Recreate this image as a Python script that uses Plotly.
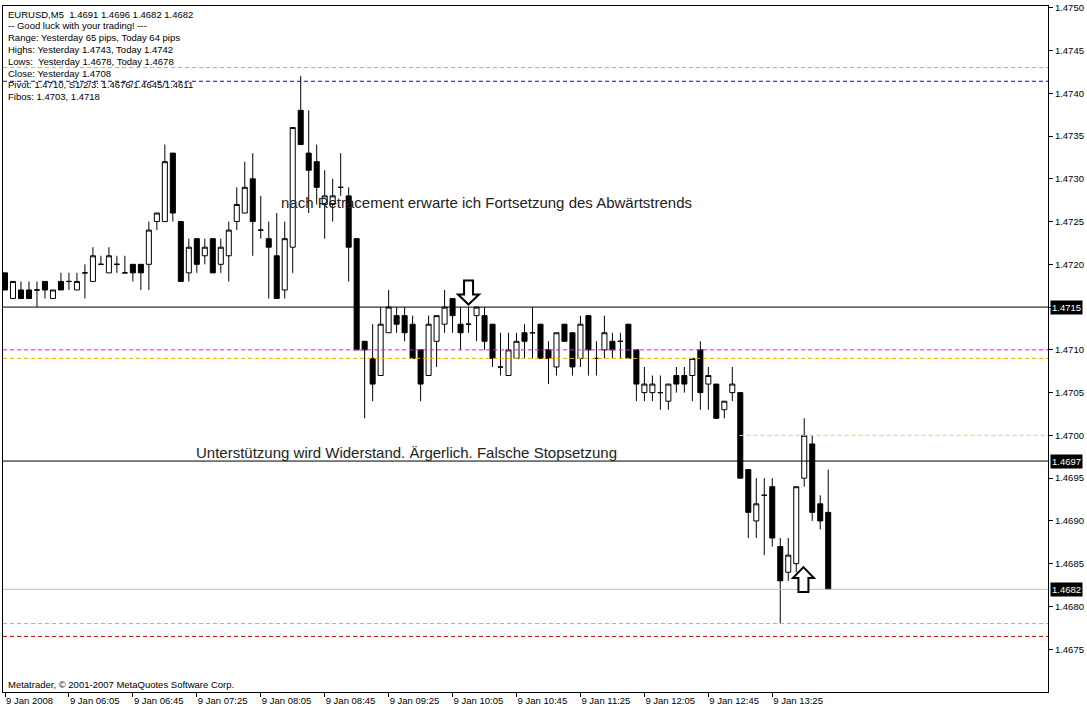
import plotly.graph_objects as go

# ---------------- data (EURUSD M5, 9 Jan 2008, bars from 05:25 to 14:00) ----------------
opens = [1.4719, 1.4716, 1.4717, 1.4717, 1.4717, 1.4718, 1.4716, 1.4718, 1.4718, 1.4717,
         1.4719, 1.4718, 1.4720, 1.4719, 1.4720, 1.4719, 1.4720, 1.4720, 1.4720, 1.4725,
         1.4725, 1.4733, 1.4725, 1.4719, 1.4723, 1.4721, 1.4723, 1.4720, 1.4721, 1.4725,
         1.4726, 1.4730, 1.4724, 1.4723, 1.4721, 1.4717, 1.4722, 1.4738, 1.4733, 1.4732,
         1.4727, 1.4727, 1.4729, 1.4728, 1.4723, 1.4711, 1.4709, 1.4707, 1.4712, 1.4714,
         1.4714, 1.4713, 1.4710, 1.4707, 1.4711, 1.4713, 1.4716, 1.4713, 1.4713, 1.4714,
         1.4714, 1.4713, 1.4708, 1.4707, 1.4709, 1.4712, 1.4712, 1.4713, 1.4710, 1.4708,
         1.4713, 1.4712, 1.4709, 1.4714, 1.4709, 1.4710, 1.4711, 1.4711, 1.4713, 1.4710,
         1.4705, 1.4705, 1.4705, 1.4704, 1.4707, 1.4707, 1.4707, 1.4710, 1.4706, 1.4706,
         1.4703, 1.4705, 1.4705, 1.4696, 1.4690, 1.4693, 1.4694, 1.4687, 1.4684, 1.4685,
         1.4695, 1.4699, 1.4692, 1.4691]
highs = [1.4719, 1.4718, 1.4718, 1.4718, 1.4718, 1.4718, 1.4717, 1.4719, 1.4719, 1.4719,
         1.4720, 1.4722, 1.4721, 1.4722, 1.4721, 1.4721, 1.4720, 1.4720, 1.4725, 1.4726,
         1.4734, 1.4733, 1.4725, 1.4723, 1.4723, 1.4723, 1.4723, 1.4723, 1.4725, 1.4729,
         1.4732, 1.4733, 1.4728, 1.4725, 1.4726, 1.4725, 1.4736, 1.4742, 1.4738, 1.4734,
         1.4731, 1.4730, 1.4733, 1.4729, 1.4723, 1.4711, 1.4713, 1.4715, 1.4717, 1.4715,
         1.4715, 1.4714, 1.4710, 1.4714, 1.4714, 1.4717, 1.4716, 1.4715, 1.4715, 1.4715,
         1.4715, 1.4713, 1.4712, 1.4712, 1.4712, 1.4713, 1.4715, 1.4713, 1.4711, 1.4712,
         1.4713, 1.4712, 1.4714, 1.4714, 1.4711, 1.4714, 1.4712, 1.4712, 1.4713, 1.4710,
         1.4708, 1.4707, 1.4707, 1.4706, 1.4708, 1.4708, 1.4709, 1.4711, 1.4708, 1.4706,
         1.4704, 1.4708, 1.4705, 1.4696, 1.4695, 1.4695, 1.4695, 1.4688, 1.4688, 1.4694,
         1.4702, 1.4700, 1.4693, 1.4696]
lows = [1.4717, 1.4716, 1.4716, 1.4716, 1.4715, 1.4716, 1.4716, 1.4717, 1.4717, 1.4717,
        1.4716, 1.4718, 1.4720, 1.4719, 1.4719, 1.4719, 1.4718, 1.4717, 1.4717, 1.4724,
        1.4725, 1.4725, 1.4718, 1.4718, 1.4719, 1.4720, 1.4719, 1.4719, 1.4718, 1.4724,
        1.4726, 1.4721, 1.4723, 1.4716, 1.4716, 1.4716, 1.4719, 1.4734, 1.4726, 1.4727,
        1.4723, 1.4725, 1.4728, 1.4718, 1.4710, 1.4702, 1.4704, 1.4707, 1.4712, 1.4712,
        1.4711, 1.4709, 1.4704, 1.4707, 1.4708, 1.4712, 1.4712, 1.4710, 1.4712, 1.4711,
        1.4710, 1.4708, 1.4707, 1.4707, 1.4709, 1.4709, 1.4709, 1.4709, 1.4706, 1.4707,
        1.4711, 1.4707, 1.4708, 1.4707, 1.4707, 1.4709, 1.4709, 1.4709, 1.4709, 1.4704,
        1.4704, 1.4704, 1.4703, 1.4703, 1.4705, 1.4705, 1.4704, 1.4703, 1.4703, 1.4702,
        1.4702, 1.4704, 1.4695, 1.4688, 1.4688, 1.4686, 1.4687, 1.4678, 1.4683, 1.4684,
        1.4694, 1.4690, 1.4689, 1.4682]
closes = [1.4717, 1.4718, 1.4716, 1.4716, 1.4717, 1.4717, 1.4717, 1.4717, 1.4718, 1.4718,
          1.4719, 1.4721, 1.4720, 1.4721, 1.4720, 1.4719, 1.4719, 1.4719, 1.4724, 1.4726,
          1.4732, 1.4726, 1.4718, 1.4722, 1.4720, 1.4722, 1.4719, 1.4722, 1.4724, 1.4727,
          1.4729, 1.4725, 1.4724, 1.4722, 1.4716, 1.4723, 1.4736, 1.4734, 1.4731, 1.4729,
          1.4728, 1.4728, 1.4729, 1.4722, 1.4710, 1.4710, 1.4706, 1.4713, 1.4715, 1.4713,
          1.4712, 1.4709, 1.4706, 1.4713, 1.4714, 1.4715, 1.4714, 1.4712, 1.4713, 1.4715,
          1.4711, 1.4709, 1.4708, 1.4710, 1.4711, 1.4711, 1.4712, 1.4709, 1.4709, 1.4712,
          1.4711, 1.4708, 1.4713, 1.4710, 1.4709, 1.4712, 1.4710, 1.4711, 1.4709, 1.4706,
          1.4706, 1.4706, 1.4705, 1.4706, 1.4706, 1.4706, 1.4709, 1.4705, 1.4707, 1.4702,
          1.4704, 1.4706, 1.4695, 1.4691, 1.4692, 1.4693, 1.4688, 1.4683, 1.4686, 1.4694,
          1.4700, 1.4691, 1.4690, 1.4682]
bars = list(range(len(opens)))

tick_bars = [0, 8, 16, 24, 32, 40, 48, 56, 64, 72, 80, 88, 96]
tick_labels = ["9 Jan 2008", "9 Jan 06:05", "9 Jan 06:45", "9 Jan 07:25", "9 Jan 08:05",
               "9 Jan 08:45", "9 Jan 09:25", "9 Jan 10:05", "9 Jan 10:45", "9 Jan 11:25",
               "9 Jan 12:05", "9 Jan 12:45", "9 Jan 13:25"]

price_ticks = [1.4675, 1.4680, 1.4685, 1.4690, 1.4695, 1.4700, 1.4705, 1.4710,
               1.4715, 1.4720, 1.4725, 1.4730, 1.4735, 1.4740, 1.4745, 1.4750]

# horizontal levels across the chart
level_prices = [1.4743, 1.47414, 1.4715, 1.4710, 1.4709, 1.4697, 1.4682, 1.4678, 1.46765]
level_colors = ["#FFA500", "#0000FF", "#000000", "#FF00FF", "#FFA500", "#000000", "#C0C0C0", "#FFA500", "#C00000"]
level_dashed = [True, True, False, True, True, False, False, True, True]

# partial level (starts at a bar)
partial_price = 1.4700
partial_start_bar = 91.9
partial_color = "#FFD700"

# price labels on the axis
label_prices = [1.4715, 1.4697, 1.4682]

# arrows (tip position: bar, price)
down_arrow = (58, 1.47153)
up_arrow = (99.9, 1.46846)

info_lines = [
    "EURUSD,M5\u00a0 1.4691 1.4696 1.4682 1.4682",
    "-- Good luck with your trading! ---",
    "Range: Yesterday 65 pips, Today 64 pips",
    "Highs: Yesterday 1.4743, Today 1.4742",
    "Lows:\u00a0 Yesterday 1.4678, Today 1.4678",
    "Close: Yesterday 1.4708",
    "Pivot: 1.4710, S1/2/3: 1.4676/1.4645/1.4611",
    "Fibos: 1.4703, 1.4718",
]

notes = [
    ("nach Retracement erwarte ich Fortsetzung des Abwärtstrends", 34.25, 1.47272),
    ("Unterstützung wird Widerstand. Ärgerlich. Falsche Stopsetzung", 23.6, 1.46980),
]

x_range = [-0.25, 130.5]
y_range = [1.46700, 1.47502]

SMALL = "Liberation Sans, Arial, sans-serif"

fig = go.Figure()
fig.add_trace(go.Candlestick(
    x=bars, open=opens, high=highs, low=lows, close=closes,
    increasing=dict(line=dict(color="black", width=1), fillcolor="white"),
    decreasing=dict(line=dict(color="black", width=1), fillcolor="black"),
    whiskerwidth=0, showlegend=False, hoverinfo="skip",
))

shapes = []
for p, c, d in zip(level_prices, level_colors, level_dashed):
    shapes.append(dict(type="line", xref="paper", yref="y", x0=0, x1=1, y0=p, y1=p,
                       line=dict(color=c, width=1, dash="4px,3px" if d else "solid")))
shapes.append(dict(type="line", xref="x", yref="y", x0=partial_start_bar, x1=x_range[1],
                   y0=partial_price, y1=partial_price,
                   line=dict(color=partial_color, width=1, dash="4px,3px")))

down_path = "M 0 0 L 10.5 10 L 4.5 10 L 4.5 24 L -4.5 24 L -4.5 10 L -10.5 10 Z"
up_path = "M 0 0 L 10.5 -11 L 5 -11 L 5 -25 L -5 -25 L -5 -11 L -10.5 -11 Z"
for (bx, by), pth in [(down_arrow, down_path), (up_arrow, up_path)]:
    shapes.append(dict(type="path", xref="x", yref="y", xsizemode="pixel", ysizemode="pixel",
                       xanchor=bx, yanchor=by, path=pth, fillcolor="white",
                       line=dict(color="black", width=2), layer="above"))

annotations = []
for i, line in enumerate(info_lines):
    annotations.append(dict(text=line, xref="paper", yref="paper", x=0, y=1,
                            xanchor="left", yanchor="middle", xshift=3, yshift=-8 - i * 11.8,
                            showarrow=False, font=dict(family=SMALL, size=9.5, color="black")))
for txt, bx, by in notes:
    annotations.append(dict(text=txt, xref="x", yref="y", x=bx, y=by, xanchor="left",
                            yanchor="middle", showarrow=False,
                            font=dict(family=SMALL, size=15, color="#222222")))
annotations.append(dict(text="Metatrader, © 2001-2007 MetaQuotes Software Corp.", xref="paper",
                        yref="paper", x=0, y=0, xanchor="left", yanchor="middle", xshift=3,
                        yshift=8, showarrow=False, font=dict(family=SMALL, size=9.5, color="black")))
for p in label_prices:
    annotations.append(dict(text=f"{p:.4f}", xref="paper", yref="y", x=1, y=p, xanchor="left",
                            yanchor="middle", xshift=2, showarrow=False, bgcolor="black",
                            borderpad=1, font=dict(family=SMALL, size=9.5, color="white")))

# tick labels hidden where a boxed price label sits on the same value
price_tick_text = ["" if any(abs(v - p) < 1e-6 for p in label_prices) else f"{v:.4f}"
                   for v in price_ticks]

fig.update_layout(
    width=1087, height=709,
    margin=dict(l=2, r=39, t=2, b=17),
    paper_bgcolor="white", plot_bgcolor="white",
    boxgap=0.3, boxgroupgap=0.1,
    shapes=shapes, annotations=annotations,
    showlegend=False,
    xaxis=dict(range=x_range, tickvals=tick_bars, ticktext=tick_labels, ticks="outside",
               ticklen=4, tickcolor="black", showline=True, linecolor="black", linewidth=1,
               mirror=True, showgrid=False, zeroline=False, ticklabelposition="outside right",
               tickfont=dict(family=SMALL, size=9.5, color="black"), ticklabeloverflow="allow",
               rangeslider=dict(visible=False), fixedrange=True),
    yaxis=dict(range=y_range, side="right", tickvals=price_ticks,
               ticktext=price_tick_text, ticks="outside", ticklen=4,
               tickcolor="black", showline=True, linecolor="black", linewidth=1, mirror=True,
               showgrid=False, zeroline=False, ticklabeloverflow="allow",
               tickfont=dict(family=SMALL, size=9.5, color="black"), fixedrange=True),
)

fig.write_html("out.html", config={"displayModeBar": False},
               post_script="document.body.style.margin='0';document.body.style.overflow='hidden';")
